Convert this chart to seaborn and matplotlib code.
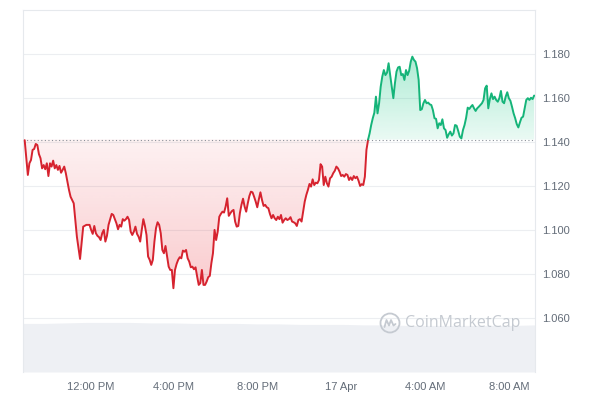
import numpy as np
import pandas as pd
import matplotlib
matplotlib.use('Agg')
import matplotlib.pyplot as plt
import seaborn as sns
from matplotlib.colors import to_rgb
from matplotlib.path import Path
from matplotlib.patches import Circle

sns.set_theme(style='white')
plt.rcParams['font.family'] = ['Liberation Sans', 'DejaVu Sans']

# price readings, evenly spaced from ~8:52 on 16 Apr to ~9:12 on 17 Apr
price = [
    1.1409, 1.1330, 1.1251, 1.1304, 1.1319, 1.1365, 1.1369, 1.1392, 1.1387, 1.1346,
    1.1327, 1.1281, 1.1296, 1.1277, 1.1304, 1.1246, 1.1304, 1.1289, 1.1316, 1.1281,
    1.1296, 1.1274, 1.1292, 1.1261, 1.1274, 1.1289, 1.1259, 1.1221, 1.1183, 1.1152,
    1.1137, 1.1122, 1.1046, 1.0970, 1.0918, 1.0869, 1.0940, 1.1016, 1.1020, 1.1024,
    1.1024, 1.1024, 1.1001, 1.0983, 1.1019, 1.0986, 1.0974, 1.0968, 1.0955, 1.0986,
    1.1001, 1.0948, 1.0974, 1.1024, 1.1049, 1.1074, 1.1069, 1.1050, 1.1031, 1.1004,
    1.1024, 1.1016, 1.1050, 1.1043, 1.1050,
    1.1061, 1.1046, 1.0993, 1.0978, 1.0993, 1.1016, 1.0983, 1.0970, 1.0948, 1.1001,
    1.1050, 1.1019, 1.0978, 1.0880, 1.0865, 1.0842, 1.0865, 1.0948, 1.1009, 1.1036,
    1.1024, 1.0986, 1.0910, 1.0895, 1.0928, 1.0880, 1.0834, 1.0819, 1.0819, 1.0736,
    1.0819, 1.0846, 1.0865, 1.0877, 1.0872, 1.0907, 1.0902, 1.0910, 1.0872, 1.0857,
    1.0831, 1.0834, 1.0822, 1.0831, 1.0789, 1.0751, 1.0759, 1.0819, 1.0751, 1.0751,
    1.0766, 1.0786, 1.0792, 1.0850, 1.0895, 1.1001, 1.0955, 1.0993, 1.1061, 1.1074,
    1.1084, 1.1080, 1.1107, 1.1145, 1.1065, 1.1077,
    1.1087, 1.1092, 1.1039, 1.1016, 1.1019, 1.1077, 1.1115, 1.1143, 1.1107, 1.1084,
    1.1122, 1.1155, 1.1175, 1.1172, 1.1152, 1.1130, 1.1104, 1.1140, 1.1172, 1.1137,
    1.1110, 1.1115, 1.1104, 1.1100, 1.1074, 1.1054, 1.1069, 1.1054, 1.1046, 1.1061,
    1.1050, 1.1069, 1.1034, 1.1046, 1.1054, 1.1046, 1.1050, 1.1059, 1.1039, 1.1036,
    1.1031, 1.1019, 1.1046, 1.1050, 1.1039, 1.1084, 1.1130, 1.1160, 1.1183, 1.1210,
    1.1198, 1.1231, 1.1205, 1.1216, 1.1213, 1.1228, 1.1300, 1.1289, 1.1205, 1.1243,
    1.1213, 1.1198, 1.1236, 1.1243, 1.1259, 1.1270,
    1.1289, 1.1281, 1.1266, 1.1246, 1.1251, 1.1243, 1.1255, 1.1251, 1.1228, 1.1240,
    1.1228, 1.1246, 1.1236, 1.1243, 1.1225, 1.1201, 1.1209, 1.1205, 1.1243, 1.1365,
    1.1410, 1.1440, 1.1478, 1.1509, 1.1534, 1.1607, 1.1531, 1.1577, 1.1652, 1.1698,
    1.1728, 1.1705, 1.1716, 1.1759, 1.1705, 1.1652, 1.1600, 1.1668, 1.1721, 1.1740,
    1.1743, 1.1705, 1.1710, 1.1683, 1.1728, 1.1705, 1.1725, 1.1766, 1.1789, 1.1774,
    1.1766, 1.1736, 1.1683, 1.1546, 1.1550, 1.1577, 1.1592, 1.1577, 1.1580,
    1.1572, 1.1569, 1.1546, 1.1509, 1.1506, 1.1463, 1.1486, 1.1478, 1.1504, 1.1463,
    1.1455, 1.1420, 1.1436, 1.1448, 1.1430, 1.1440, 1.1478, 1.1475, 1.1451, 1.1425,
    1.1417, 1.1455, 1.1478, 1.1511, 1.1557, 1.1551, 1.1561, 1.1569, 1.1554, 1.1542,
    1.1554, 1.1561, 1.1569, 1.1577, 1.1592, 1.1645, 1.1657, 1.1554, 1.1596, 1.1622,
    1.1596, 1.1607, 1.1592, 1.1584, 1.1600, 1.1633, 1.1584, 1.1577, 1.1607, 1.1627,
    1.1600, 1.1588, 1.1561, 1.1531, 1.1509, 1.1482, 1.1467, 1.1490, 1.1511, 1.1516,
    1.1554, 1.1592, 1.1600, 1.1592, 1.1602, 1.1596, 1.1612,
]
open_price = 1.1412
t_start, t_end = 8.87, 33.2      # hours since 16 Apr 00:00

# 24h volume (relative), hourly
volume = [49, 49, 49.5, 50, 50, 50, 49.5, 49.5, 49, 49, 49, 48.5, 48.5,
          48, 48, 48, 47.5, 47.5, 47, 47, 47, 47, 47, 47, 47.5]

tick_hours = [12, 16, 20, 24, 28, 32]
tick_labels = ['12:00 PM', '4:00 PM', '8:00 PM', '17 Apr', '4:00 AM', '8:00 AM']
y_ticks = [1.06, 1.08, 1.10, 1.12, 1.14, 1.16, 1.18]

red = '#d6232f'
green = '#15b479'
label_col = '#636c78'
grid_col = '#eceef1'

df = pd.DataFrame({'hour': np.linspace(t_start, t_end, len(price)), 'price': price})

# add the points where the line crosses the opening price
x, y = df['hour'].values, df['price'].values
xs, ys = [x[0]], [y[0]]
for i in range(1, len(x)):
    if (y[i - 1] - open_price) * (y[i] - open_price) < 0:
        t = (open_price - y[i - 1]) / (y[i] - y[i - 1])
        xs.append(x[i - 1] + t * (x[i] - x[i - 1]))
        ys.append(open_price)
    xs.append(x[i])
    ys.append(y[i])
xs, ys = np.array(xs), np.array(ys)

down = pd.DataFrame({'hour': xs[ys <= open_price], 'price': ys[ys <= open_price], 'side': 'down'})
up = pd.DataFrame({'hour': xs[ys >= open_price], 'price': ys[ys >= open_price], 'side': 'up'})
long_df = pd.concat([down, up], ignore_index=True)

fig = plt.figure(figsize=(6, 4), dpi=100)
rect = [23 / 600, 28 / 400, 512 / 600, 362 / 400]
ax_vol = fig.add_axes(rect, zorder=0)
ax = fig.add_axes(rect, zorder=1, sharex=ax_vol)
ax.patch.set_visible(False)

xlim = (8.79, 33.24)
ylim = (1.0355, 1.2001)

# volume area
vol_df = pd.DataFrame({'hour': np.linspace(t_start - 0.1, t_end + 0.05, len(volume)), 'vol': volume})
ax_vol.fill_between(vol_df['hour'], vol_df['vol'], 0, color='#eef0f4', linewidth=0)
ax_vol.set_ylim(0, max(volume) * 7.3)
ax_vol.set_yticks([])
ax_vol.tick_params(axis='x', length=0, labelbottom=False)
for s in ax_vol.spines.values():
    s.set_visible(False)


def gradient_fill(lower, upper, y0, y1, color, a0, a1):
    poly = ax.fill_between(xs, lower, upper, facecolor='none', edgecolor='none')
    path = Path.make_compound_path(*poly.get_paths())
    rgb = to_rgb(color)
    img = np.zeros((256, 1, 4))
    img[..., :3] = rgb
    img[:, 0, 3] = np.linspace(a0, a1, 256)
    im = ax.imshow(img, aspect='auto', origin='lower', extent=[xlim[0], xlim[1], y0, y1],
                   interpolation='bilinear', zorder=1)
    im.set_clip_path(path, ax.transData)


gradient_fill(np.minimum(ys, open_price), open_price, 1.07, open_price, '#ea3943', 0.27, 0.07)
gradient_fill(open_price, np.maximum(ys, open_price), open_price, 1.178, '#16c784', 0.09, 0.34)

sns.lineplot(data=long_df, x='hour', y='price', hue='side', palette={'down': red, 'up': green},
             estimator=None, sort=False, linewidth=1.4, legend=False, ax=ax, zorder=3)

ax.axhline(open_price, color='#8a9099', linestyle=(0, (1, 2.2)), linewidth=0.8, zorder=2)

ax.set_xlim(*xlim)
ax.set_ylim(*ylim)
ax.set_xlabel('')
ax.set_ylabel('')
ax.yaxis.tick_right()
ax.set_yticks(y_ticks, [f'{v:.3f}' for v in y_ticks])
ax.set_xticks(tick_hours, tick_labels)
ax.tick_params(axis='y', length=0, pad=5, labelsize=8, labelcolor=label_col)
ax.tick_params(axis='x', length=0, pad=7, labelsize=8, labelcolor=label_col)
ax.grid(axis='y', color=grid_col, linewidth=0.8)
ax.set_axisbelow(True)
for name, s in ax.spines.items():
    s.set_color('#e6e9ed')
    s.set_linewidth(0.8)
ax.spines['bottom'].set_visible(False)

# watermark
fig.text(405 / 600, 1 - 323 / 400, 'CoinMarketCap', fontsize=11.5, color='#c5cad1',
         va='center', ha='left', family=['Open Sans', 'DejaVu Sans'], zorder=5)
fig.patches.append(Circle((3.90, 0.77), 0.095, transform=fig.dpi_scale_trans,
                          fill=False, edgecolor='#c5cad1', linewidth=1.3, zorder=5))
fig.lines.append(plt.Line2D([3.845, 3.865, 3.89, 3.91, 3.935, 3.955],
                            [0.73, 0.80, 0.745, 0.80, 0.745, 0.76],
                            transform=fig.dpi_scale_trans, color='#c5cad1', linewidth=1.3, zorder=5))

fig.savefig('out.png', dpi=100)
